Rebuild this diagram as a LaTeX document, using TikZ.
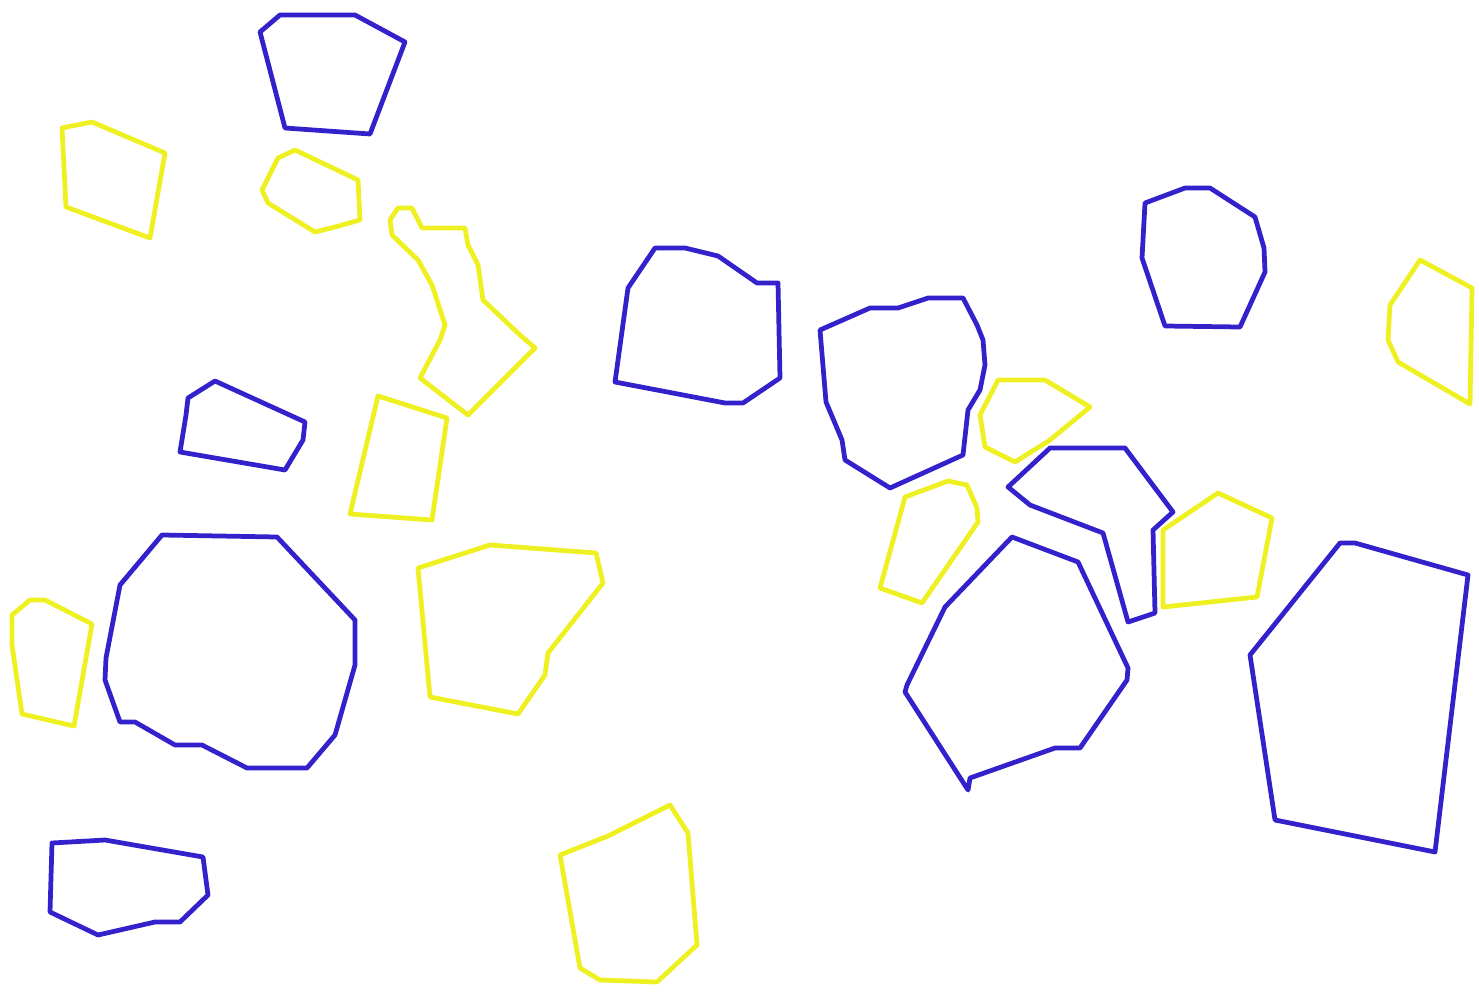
\documentclass[tikz,border=0pt]{standalone}
\usepackage{xcolor}
\usepackage{tikz}
\definecolor{ShapeBlue}  {HTML}{3322CC}
\definecolor{ShapeYellow}{HTML}{EEF022}
\tikzset{
  bluepoly/.style={draw=ShapeBlue,line width=1.35pt,line join=round},
  yellowpoly/.style={draw=ShapeYellow,line width=1.35pt,line join=round}
}

\begin{document}
\begin{tikzpicture}[x=0.01cm,y=-0.01cm]
  \useasboundingbox (0,0) rectangle (1479,991);
  % blue outlines
  \draw[bluepoly] (260,32) -- (280,15) -- (355,15) -- (405,42) -- (370,134) -- (285,128) -- cycle;
  \draw[bluepoly] (188,398) -- (215,381) -- (305,422) -- (303,440) -- (285,470) -- (180,452) -- (186,415) -- cycle;
  \draw[bluepoly] (120,585) -- (162,535) -- (277,537) -- (355,620) -- (355,665) -- (335,735) -- (307,768)
    -- (247,768) -- (202,745) -- (175,745) -- (135,722) -- (120,722) -- (105,680) -- (106,658) -- cycle;
  \draw[bluepoly] (52,843) -- (105,840) -- (203,857) -- (208,895) -- (180,922) -- (155,922) -- (98,935) -- (50,912) -- cycle;
  \draw[bluepoly] (628,288) -- (655,248) -- (685,248) -- (718,256) -- (757,283) -- (778,283) -- (780,378)
    -- (743,403) -- (725,403) -- (615,382) -- cycle;
  \draw[bluepoly] (820,330) -- (870,308) -- (898,308) -- (928,298) -- (963,298) -- (977,325) -- (983,340)
    -- (985,365) -- (980,390) -- (968,410) -- (963,455) -- (890,488) -- (845,460) -- (842,440) -- (826,402) -- cycle;
  \draw[bluepoly] (1008,487) -- (1050,448) -- (1125,448) -- (1173,512) -- (1153,530) -- (1155,613)
    -- (1128,622) -- (1103,533) -- (1030,505) -- cycle;
  \draw[bluepoly] (945,607) -- (1012,537) -- (1078,562) -- (1128,668) -- (1127,680) -- (1080,748) -- (1055,748)
    -- (970,778) -- (968,790) -- (905,692) -- (907,685) -- cycle;
  \draw[bluepoly] (1250,655) -- (1340,543) -- (1355,543) -- (1468,575) -- (1435,852) -- (1275,820) -- cycle;
  \draw[bluepoly] (1145,203) -- (1185,188) -- (1210,188) -- (1255,217) -- (1264,248) -- (1265,272)
    -- (1240,327) -- (1165,326) -- (1142,258) -- cycle;
  % yellow outlines
  \draw[yellowpoly] (62,128) -- (92,122) -- (165,153) -- (150,238) -- (66,207) -- cycle;
  \draw[yellowpoly] (262,190) -- (278,158) -- (295,150) -- (358,180) -- (360,220) -- (335,227) -- (315,232) -- (268,203) -- cycle;
  \draw[yellowpoly] (390,220) -- (398,208) -- (412,208) -- (422,228) -- (465,228) -- (468,245) -- (478,265)
    -- (483,300) -- (520,335) -- (535,348) -- (468,415) -- (420,378) -- (440,340) -- (445,325) -- (432,285)
    -- (418,260) -- (392,235) -- cycle;
  \draw[yellowpoly] (378,396) -- (447,418) -- (432,520) -- (350,514) -- cycle;
  \draw[yellowpoly] (12,615) -- (30,600) -- (45,600) -- (92,624) -- (74,726) -- (22,714) -- (12,645) -- cycle;
  \draw[yellowpoly] (418,568) -- (490,545) -- (596,553) -- (603,583) -- (548,653) -- (545,675) -- (518,714) -- (430,697) -- cycle;
  \draw[yellowpoly] (560,855) -- (608,836) -- (670,805) -- (688,833) -- (697,945) -- (657,982) -- (600,980) -- (580,968) -- cycle;
  \draw[yellowpoly] (998,380) -- (1045,380) -- (1090,407) -- (1050,440) -- (1015,462) -- (985,447) -- (980,415) -- cycle;
  \draw[yellowpoly] (905,497) -- (948,481) -- (967,485) -- (977,508) -- (978,522) -- (922,603) -- (880,588) -- cycle;
  \draw[yellowpoly] (1163,530) -- (1218,493) -- (1272,518) -- (1257,597) -- (1163,607) -- cycle;
  \draw[yellowpoly] (1390,305) -- (1420,260) -- (1472,288) -- (1470,404) -- (1398,362) -- (1388,340) -- cycle;
\end{tikzpicture}
\end{document}
